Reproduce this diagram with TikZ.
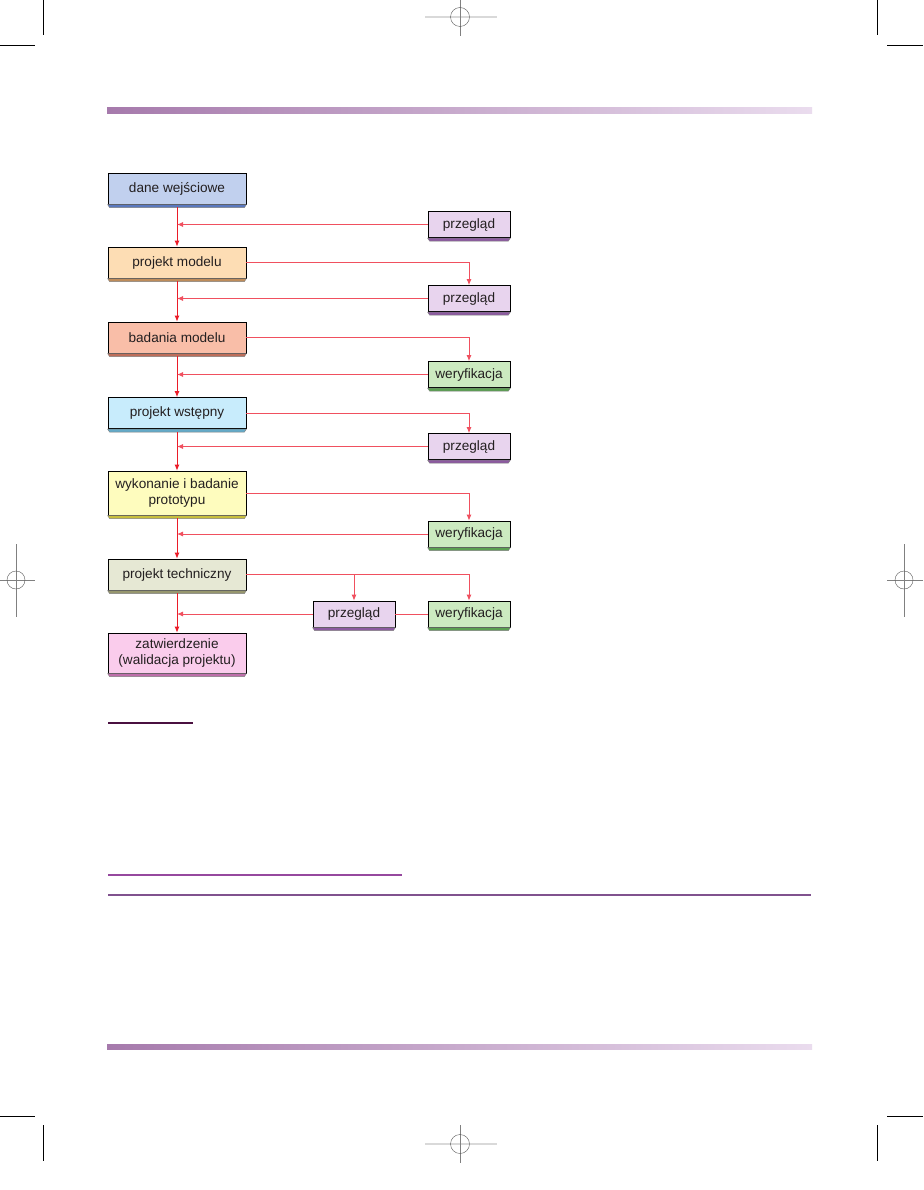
\documentclass[tikz,border=0pt]{standalone}
\usepackage{fontspec}
\setmainfont{Liberation Sans}
\usetikzlibrary{arrows.meta}
\definecolor{txt}{RGB}{35,31,32}
\definecolor{flowred}{RGB}{235,28,40}
\definecolor{backred}{RGB}{240,80,95}
\definecolor{barl}{RGB}{166,122,172}
\definecolor{barr}{RGB}{234,220,238}
\definecolor{ruleA}{RGB}{74,16,64}
\definecolor{ruleB}{RGB}{150,72,158}
\definecolor{ruleC}{RGB}{128,82,142}
\definecolor{c_in}{RGB}{193,208,238}   \definecolor{d_in}{RGB}{90,120,190}
\definecolor{c_mod}{RGB}{253,221,180}  \definecolor{d_mod}{RGB}{190,140,90}
\definecolor{c_bad}{RGB}{249,190,168}  \definecolor{d_bad}{RGB}{190,110,90}
\definecolor{c_wst}{RGB}{200,236,252}  \definecolor{d_wst}{RGB}{100,170,200}
\definecolor{c_pro}{RGB}{254,252,190}  \definecolor{d_pro}{RGB}{200,190,60}
\definecolor{c_tec}{RGB}{230,232,212}  \definecolor{d_tec}{RGB}{150,150,110}
\definecolor{c_zat}{RGB}{250,204,236}  \definecolor{d_zat}{RGB}{190,110,170}
\definecolor{c_prz}{RGB}{232,212,238}  \definecolor{d_prz}{RGB}{140,90,160}
\definecolor{c_wer}{RGB}{204,234,192}  \definecolor{d_wer}{RGB}{90,160,80}

\begin{document}
\begin{tikzpicture}[x=1pt,y=-1pt,
		every node/.style={font=\fontsize{13.6}{16.5}\selectfont, text=txt, align=center, inner sep=0pt},
		stage/.style={rectangle, draw=black, line width=0.7pt, minimum width=138pt, minimum height=31pt},
		check/.style={rectangle, draw=black, line width=0.7pt, minimum width=82pt, minimum height=26pt},
		flow/.style={draw=flowred, line width=0.9pt, -{Latex[length=6pt,width=5pt]}},
		back/.style={draw=backred, line width=0.9pt, -{Latex[length=6pt,width=5pt]}},
		cropline/.style={draw=black, line width=0.8pt},
		regline/.style={draw=gray, line width=0.4pt}]
		\useasboundingbox[fill=white] (0,0) rectangle (923,1190);
		% page furniture
		\shade[left color=barl, right color=barr] (107,108) rectangle (812,114);
		\shade[left color=barl, right color=barr] (107,1044) rectangle (812,1049);
		\draw[draw=ruleA, line width=1.3pt] (108,723) -- (193,723);
		\draw[draw=ruleB, line width=1.1pt] (108,875) -- (402,875);
		\draw[draw=ruleC, line width=1.1pt] (108,895) -- (811,895);
		\draw[cropline] (43,0) -- (43,35) (0,45) -- (35,45);
		\draw[cropline] (877,0) -- (877,35) (887,45) -- (923,45);
		\draw[cropline] (43,1125) -- (43,1161) (0,1116) -- (35,1116);
		\draw[cropline] (877,1125) -- (877,1161) (887,1116) -- (923,1116);
		\foreach \cx/\cy in {460/17, 460/1144} {
			\draw[draw=gray!30, line width=1.6pt] (\cx-35,\cy) -- (\cx+37,\cy);
			\draw[regline] (\cx,\cy-19) -- (\cx,\cy+19);
			\draw[regline, draw=gray!70!black] (\cx,\cy) circle (9.5pt);
		}
		\foreach \cx/\cy in {16/580, 904/580} {
			\draw[regline] (\cx-17,\cy) -- (\cx+19,\cy) (\cx,\cy-36) -- (\cx,\cy+37);
			\draw[regline, draw=gray!70!black] (\cx,\cy) circle (9pt);
		}
		% stages
		\node[stage, fill=c_in]	(b_1) at (177,188.5) {dane wejściowe};
		\node[stage, fill=c_mod]	(b_2) at (177,262.5) {projekt modelu};
		\node[stage, fill=c_bad]	(b_3) at (177,337.5) {badania modelu};
		\node[stage, fill=c_wst]	(b_4) at (177,413) {projekt wstępny};
		\node[stage, fill=c_pro, minimum height=44pt]	(b_5) at (177,493) {wykonanie i badanie\\prototypu};
		\node[stage, fill=c_tec]	(b_6) at (177,574.5) {projekt techniczny};
		\node[stage, fill=c_zat, minimum height=40pt]	(b_7) at (177,653) {zatwierdzenie\\(walidacja projektu)};
		% checks
		\node[check, fill=c_prz]	(p_1) at (469,224.5) {przegląd};
		\node[check, fill=c_prz]	(p_2) at (469,298.5) {przegląd};
		\node[check, fill=c_wer]	(w_1) at (469,374.5) {weryfikacja};
		\node[check, fill=c_prz]	(p_3) at (469,446.5) {przegląd};
		\node[check, fill=c_wer]	(w_2) at (469,534) {weryfikacja};
		\node[check, fill=c_prz]	(p_4) at (354,614) {przegląd};
		\node[check, fill=c_wer]	(w_3) at (469,614) {weryfikacja};
		\foreach \n/\c in {b_1/d_in, b_2/d_mod, b_3/d_bad, b_4/d_wst, b_5/d_pro, b_6/d_tec, b_7/d_zat,
				p_1/d_prz, p_2/d_prz, w_1/d_wer, p_3/d_prz, w_2/d_wer, p_4/d_prz, w_3/d_wer}
			\filldraw[fill=\c, draw=gray, line width=0.4pt] ([yshift=-0.3pt]\n.south west) -- ++(2,3)
				-- ([xshift=-2pt,yshift=-3.3pt]\n.south east) -- ([yshift=-0.3pt]\n.south east) -- cycle;
		% connectors
		\foreach \a/\b in {b_1/b_2, b_2/b_3, b_3/b_4, b_4/b_5, b_5/b_6, b_6/b_7}
			\draw[flow] ([yshift=-3pt]\a.south) -- (\b.north);
		\draw[back] (b_2.east) -| (p_2.north);
		\draw[back] (b_3.east) -| (w_1.north);
		\draw[back] (b_4.east) -| (p_3.north);
		\draw[back] (b_5.east) -| (w_2.north);
		\draw[back] (b_6.east) -| (w_3.north);
		\draw[back] (p_4.north |- b_6.east) -- (p_4.north);
		\foreach \s/\t in {p_1/b_1, p_2/b_2, w_1/b_3, p_3/b_4, w_2/b_5, p_4/b_6}
			\draw[back] (\s.west) -- (\s.west -| \t.south);
		\draw[back, -] (w_3.west) -- (p_4.east);
	\end{tikzpicture}
\end{document}
